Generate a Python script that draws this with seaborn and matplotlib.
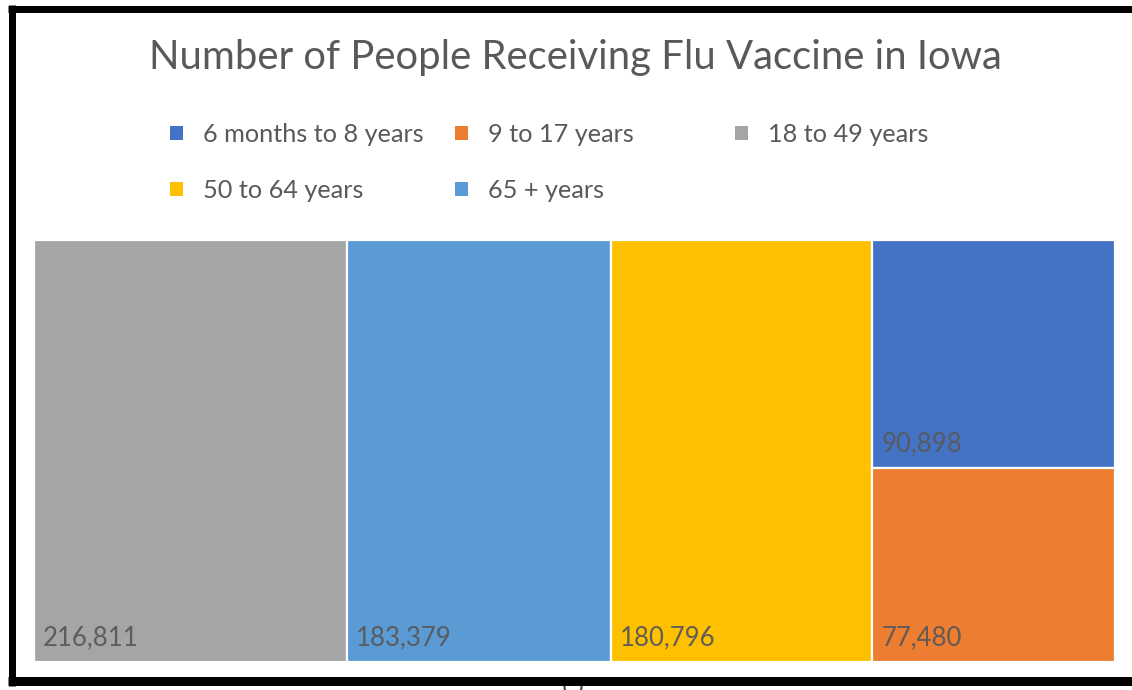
import matplotlib
matplotlib.use("Agg")
import matplotlib.pyplot as plt
from matplotlib.patches import Rectangle, Ellipse
from matplotlib.lines import Line2D
import seaborn as sns

# ---- data ----
title = "Number of People Receiving Flu Vaccine in Iowa"
categories = ["6 months to 8 years", "9 to 17 years", "18 to 49 years",
              "50 to 64 years", "65 + years"]
values = [90898, 77480, 216811, 180796, 183379]
colors_hex = ["#4472C4", "#ED7D31", "#A5A5A5", "#FFC000", "#5B9BD5"]

sns.set_theme(style="white")
plt.rcParams['font.family'] = ['Lato', 'DejaVu Sans']
palette = sns.color_palette(colors_hex)
color_of = dict(zip(categories, palette))
TXT = "#595959"

FIG_W, FIG_H = 1132, 690
fig = plt.figure(figsize=(FIG_W / 100, FIG_H / 100), dpi=100)
fig.patch.set_facecolor("white")


def worst(row, side):
    s = sum(row)
    return max(max(side * side * r / (s * s), (s * s) / (side * side * r)) for r in row)


def squarify(areas, x, y, dx, dy):
    rects = []
    vals = list(areas)
    while vals:
        short = min(dx, dy)
        row = [vals[0]]
        i = 1
        while i < len(vals) and worst(row + [vals[i]], short) <= worst(row, short):
            row.append(vals[i])
            i += 1
        s = sum(row)
        if dx >= dy:
            w = s / dy
            yy = y + dy
            for r in row:
                h = r / w
                rects.append((x, yy - h, w, h))
                yy -= h
            x += w
            dx -= w
        else:
            h = s / dx
            xx = x
            for r in row:
                w = r / h
                rects.append((xx, y + dy - h, w, h))
                xx += w
            dy -= h
        vals = vals[i:]
    return rects


# treemap axes
L, T, R, B = 34, 240, 1115, 662
ax = fig.add_axes([L / FIG_W, 1 - B / FIG_H, (R - L) / FIG_W, (B - T) / FIG_H])
W, H = R - L, B - T
ax.set_xlim(0, W)
ax.set_ylim(0, H)
ax.axis("off")

order = sorted(range(len(values)), key=lambda k: -values[k])
total = sum(values)
areas = [values[k] / total * W * H for k in order]
rects = squarify(areas, 0, 0, W, H)
for k, (x, y, w, h) in zip(order, rects):
    ax.add_patch(Rectangle((x, y), w, h, facecolor=color_of[categories[k]],
                           edgecolor="white", linewidth=1.6))
    ax.annotate(f"{values[k]:,}", (x, y), xytext=(6.5, 12), textcoords="offset points",
                ha="left", va="baseline", fontsize=18.5, color=TXT, alpha=0.95)

# title
fig.text(575 / FIG_W, 1 - 58 / FIG_H, title, ha="center", va="center",
         fontsize=28.8, color=TXT)

# legend (manual grid like Excel)
col_x = [170, 455, 735]
row_y = [133, 189]
for i, cat in enumerate(categories):
    cx = col_x[i % 3]
    cy = row_y[i // 3]
    fig.patches.append(Rectangle((cx / FIG_W, 1 - (cy + 6.5) / FIG_H), 13 / FIG_W, 13 / FIG_H,
                                 transform=fig.transFigure, facecolor=color_of[cat],
                                 edgecolor="none"))
    fig.text((cx + 33) / FIG_W, 1 - (cy + 1) / FIG_H, cat, ha="left", va="center",
             fontsize=18.2, color=TXT)

# screenshot frame
fig.lines.append(Line2D([11.5 / FIG_W, 11.5 / FIG_W], [1 - 5 / FIG_H, 1 - 686 / FIG_H],
                        transform=fig.transFigure, color="black", linewidth=7 * 0.72,
                        solid_capstyle="butt"))
fig.lines.append(Line2D([8 / FIG_W, 1.0], [1 - 8.5 / FIG_H, 1 - 8.5 / FIG_H],
                        transform=fig.transFigure, color="black", linewidth=7 * 0.72,
                        solid_capstyle="butt"))
fig.lines.append(Line2D([8 / FIG_W, 1.0], [1 - 681 / FIG_H, 1 - 681 / FIG_H],
                        transform=fig.transFigure, color="black", linewidth=9 * 0.72,
                        solid_capstyle="butt"))
fig.patches.append(Ellipse((573 / FIG_W, 1 - 687 / FIG_H), 17 / FIG_W, 17 / FIG_H,
                           transform=fig.transFigure, facecolor="white",
                           edgecolor="#444444", linewidth=1.5))

fig.savefig("out.png", dpi=100, facecolor="white")
